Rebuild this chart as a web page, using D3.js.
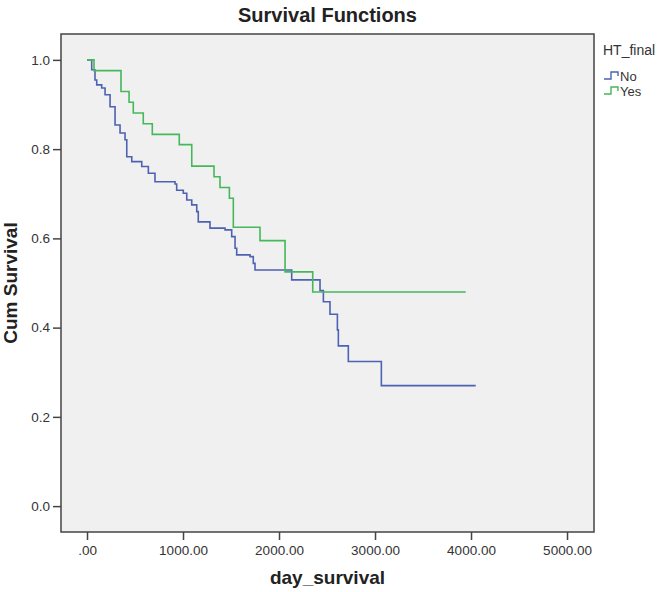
<!DOCTYPE html>
<html>
<head>
<meta charset="utf-8">
<script src="https://cdn.jsdelivr.net/npm/d3@7"></script>
<style>
  body { margin: 0; background: #fff; }
  text { font-family: "Liberation Sans", Arial, sans-serif; }
</style>
</head>
<body>
<svg id="chart" width="663" height="592"></svg>
<script>
// step points [day, cum survival]
var noSteps = [
  [0, 1.0], [49, 0.978], [83, 0.955], [101, 0.944], [153, 0.937], [188, 0.922],
  [240, 0.895], [292, 0.854], [344, 0.836], [396, 0.821], [414, 0.783], [466, 0.772],
  [570, 0.761], [639, 0.746], [708, 0.727], [917, 0.722], [934, 0.708], [1003, 0.701],
  [1039, 0.686], [1091, 0.675], [1143, 0.660], [1159, 0.637], [1281, 0.623], [1438, 0.619],
  [1507, 0.604], [1542, 0.578], [1559, 0.563], [1698, 0.559], [1732, 0.544], [1750, 0.529],
  [2132, 0.507], [2427, 0.483], [2462, 0.458], [2531, 0.430], [2608, 0.395], [2618, 0.359],
  [2722, 0.324], [3066, 0.270], [4049, 0.270]
];
var yesSteps = [
  [0, 1.0], [73, 0.976], [354, 0.929], [438, 0.905], [482, 0.881], [586, 0.857],
  [680, 0.833], [961, 0.810], [1091, 0.762], [1323, 0.738], [1385, 0.714], [1483, 0.690],
  [1524, 0.625], [1802, 0.595], [2063, 0.525], [2351, 0.480], [3945, 0.480]
];
var xTicks = [0, 1000, 2000, 3000, 4000, 5000];
var yTicks = [0, 0.2, 0.4, 0.6, 0.8, 1.0];
var groups = ["No", "Yes"];
var colours = ["#4d62b2", "#45b859"];

var svg = d3.select("#chart");
var plotLeft = 61, plotRight = 594, plotTop = 34, plotBottom = 532;

var x = d3.scaleLinear().domain([-271, 5281]).range([plotLeft, plotRight]);
var y = d3.scaleLinear().domain([-0.058, 1.058]).range([plotBottom, plotTop]);

svg.append("rect")
  .attr("x", plotLeft).attr("y", plotTop)
  .attr("width", plotRight - plotLeft).attr("height", plotBottom - plotTop)
  .attr("fill", "#f0f0f0");

var line = d3.line()
  .x(function (d) { return x(d[0]); })
  .y(function (d) { return y(d[1]); })
  .curve(d3.curveStepAfter);

[noSteps, yesSteps].forEach(function (s, i) {
  svg.append("path")
    .attr("d", line(s))
    .attr("fill", "none")
    .attr("stroke", colours[i])
    .attr("stroke-width", 1.6);
});

svg.append("rect")
  .attr("x", plotLeft).attr("y", plotTop)
  .attr("width", plotRight - plotLeft).attr("height", plotBottom - plotTop)
  .attr("fill", "none")
  .attr("stroke", "#444")
  .attr("stroke-width", 1.5);

var xAxis = svg.append("g")
  .attr("transform", "translate(0," + plotBottom + ")")
  .call(d3.axisBottom(x).tickValues(xTicks).tickSize(8).tickPadding(5)
    .tickFormat(function (d) { return d === 0 ? ".00" : d.toFixed(2); }));
var yAxis = svg.append("g")
  .attr("transform", "translate(" + plotLeft + ",0)")
  .call(d3.axisLeft(y).tickValues(yTicks).tickSize(8).tickPadding(3)
    .tickFormat(d3.format(".1f")));

[xAxis, yAxis].forEach(function (a) {
  a.select(".domain").remove();
  a.selectAll(".tick line").attr("stroke", "#444").attr("stroke-width", 1.5);
  a.selectAll(".tick text")
    .attr("fill", "#333")
    .style("font-size", "13.5px")
    .style("font-family", "'Liberation Sans', Arial, sans-serif");
});

svg.append("text")
  .attr("x", (plotLeft + plotRight) / 2).attr("y", 22)
  .attr("text-anchor", "middle")
  .attr("font-size", "20px").attr("font-weight", "bold").attr("fill", "#222")
  .text("Survival Functions");

svg.append("text")
  .attr("x", (plotLeft + plotRight) / 2).attr("y", 584)
  .attr("text-anchor", "middle")
  .attr("font-size", "19px").attr("font-weight", "bold").attr("fill", "#222")
  .text("day_survival");

svg.append("text")
  .attr("transform", "translate(17," + (plotTop + plotBottom) / 2 + ") rotate(-90)")
  .attr("text-anchor", "middle")
  .attr("font-size", "19px").attr("font-weight", "bold").attr("fill", "#222")
  .text("Cum Survival");

// legend
svg.append("text")
  .attr("x", 603).attr("y", 55)
  .attr("font-size", "14px").attr("fill", "#333")
  .text("HT_final");

groups.forEach(function (g, i) {
  var by = 81 + i * 15;
  svg.append("path")
    .attr("d", "M604," + (by - 2) + "H611V" + (by - 9) + "H618V" + (by - 5))
    .attr("fill", "none")
    .attr("stroke", colours[i])
    .attr("stroke-width", 1.4);
  svg.append("text")
    .attr("x", 620).attr("y", by)
    .attr("font-size", "13px").attr("fill", "#333")
    .text(g);
});
</script>
</body>
</html>
